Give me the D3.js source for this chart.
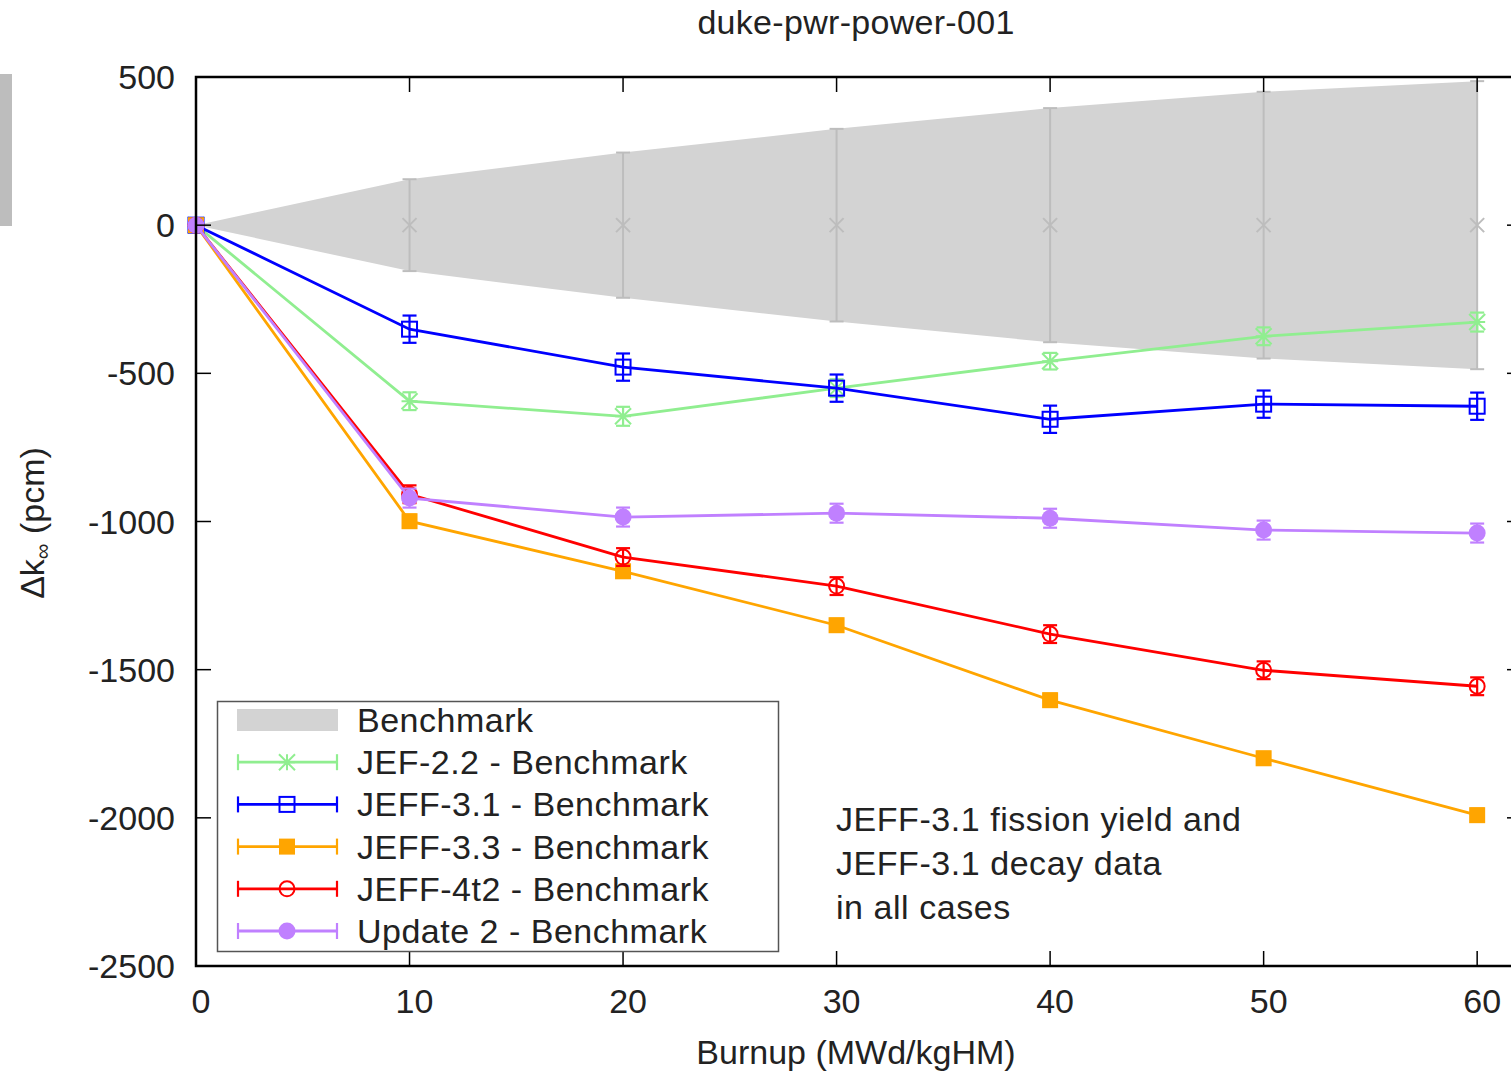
<!DOCTYPE html>
<html>
<head>
<meta charset="utf-8">
<script src="https://cdn.jsdelivr.net/npm/d3@7"></script>
<style>
  html, body { margin: 0; padding: 0; background: #fff; }
  svg { display: block; }
  text { font-family: "Liberation Sans", Arial, sans-serif; fill: #222; }
</style>
</head>
<body>
<svg id="chart" width="1511" height="1073"></svg>
<script>
// ---- Data ----
const burnup = [0, 10, 20, 30, 40, 50, 60];
const benchmarkCenter = [0, 0, 0, 0, 0, 0, 0];
const benchmarkUnc = [0, 155, 245, 325, 395, 450, 486];

const jef22 = [0, -594, -645, -550, -459, -375, -327];
const jef22Err = [0, 30, 32, 30, 28, 30, 32];
const jeff31 = [0, -351, -479, -550, -655, -604, -611];
const jeff31Err = [0, 46, 46, 46, 46, 46, 46];
const jeff33 = [0, -999, -1168, -1350, -1603, -1799, -1991];
const jeff33Err = [0, 22, 22, 22, 22, 22, 22];
const jeff4t2 = [0, -908, -1120, -1218, -1380, -1502, -1556];
const jeff4t2Err = [0, 30, 30, 30, 30, 30, 30];
const update2 = [0, -921, -985, -972, -989, -1029, -1039];
const update2Err = [0, 32, 32, 32, 32, 32, 32];

const seriesNames = ["JEF-2.2 - Benchmark", "JEFF-3.1 - Benchmark", "JEFF-3.3 - Benchmark", "JEFF-4t2 - Benchmark", "Update 2 - Benchmark"];
const xTicks = [0, 10, 20, 30, 40, 50, 60];
const yTicks = [500, 0, -500, -1000, -1500, -2000, -2500];
const titleText = "duke-pwr-power-001";
const xLabel = "Burnup (MWd/kgHM)";
const noteLines = ["JEFF-3.1 fission yield and", "JEFF-3.1 decay data", "in all cases"];

// ---- Layout ----
const svg = d3.select("#chart");
const pL = 196, pR = 1522, pT = 77, pB = 966;
const x = d3.scaleLinear().domain([0, 62.1]).range([pL, pR]);
const y = d3.scaleLinear().domain([-2500, 500]).range([pB, pT]);
const FS = 34;

// artifact gray block at left edge
svg.append("rect").attr("x", 0).attr("y", 74).attr("width", 12).attr("height", 152).attr("fill", "#bdbdbd");

// Benchmark band
const bandData = burnup.map((b, i) => ({ x: b, c: benchmarkCenter[i], u: benchmarkUnc[i] }));
svg.append("path")
  .datum(bandData)
  .attr("fill", "#d3d3d3")
  .attr("d", d3.area().x(d => x(d.x)).y0(d => y(d.c - d.u)).y1(d => y(d.c + d.u)));

// Benchmark error bars and x markers
const bg = svg.append("g").attr("stroke", "#bdbdbd").attr("stroke-width", 2).attr("fill", "none");
bandData.forEach(d => {
  const cx = x(d.x);
  if (d.u > 0) {
    bg.append("line").attr("x1", cx).attr("x2", cx).attr("y1", y(d.c - d.u)).attr("y2", y(d.c + d.u));
    bg.append("line").attr("x1", cx - 7).attr("x2", cx + 7).attr("y1", y(d.c + d.u)).attr("y2", y(d.c + d.u));
    bg.append("line").attr("x1", cx - 7).attr("x2", cx + 7).attr("y1", y(d.c - d.u)).attr("y2", y(d.c - d.u));
  }
  const cy = y(d.c), s = 7;
  if (d.x > 0) bg.append("path").attr("d", `M${cx - s},${cy - s}L${cx + s},${cy + s}M${cx - s},${cy + s}L${cx + s},${cy - s}`);
});

// ---- Series ----
const series = [
  { name: seriesNames[0], vals: jef22, err: jef22Err, color: "#90ee90", marker: "star" },
  { name: seriesNames[1], vals: jeff31, err: jeff31Err, color: "#0000ff", marker: "osquare" },
  { name: seriesNames[2], vals: jeff33, err: jeff33Err, color: "#ffa500", marker: "fsquare" },
  { name: seriesNames[3], vals: jeff4t2, err: jeff4t2Err, color: "#ff0000", marker: "ocircle" },
  { name: seriesNames[4], vals: update2, err: update2Err, color: "#c080ff", marker: "fcircle" }
];

function drawMarker(g, type, cx, cy, color) {
  const s = 8;
  if (type === "star") {
    g.append("path").attr("d", `M${cx - s},${cy - s}L${cx + s},${cy + s}M${cx - s},${cy + s}L${cx + s},${cy - s}M${cx},${cy - s}L${cx},${cy + s}M${cx - s},${cy}L${cx + s},${cy}`)
      .attr("stroke", color).attr("stroke-width", 2).attr("fill", "none");
  } else if (type === "osquare") {
    g.append("rect").attr("x", cx - 7.5).attr("y", cy - 7.5).attr("width", 15).attr("height", 15)
      .attr("stroke", color).attr("stroke-width", 2).attr("fill", "none");
  } else if (type === "fsquare") {
    g.append("rect").attr("x", cx - 8).attr("y", cy - 8).attr("width", 16).attr("height", 16).attr("fill", color);
  } else if (type === "ocircle") {
    g.append("circle").attr("cx", cx).attr("cy", cy).attr("r", 7.5).attr("stroke", color).attr("stroke-width", 2).attr("fill", "none");
  } else if (type === "fcircle") {
    g.append("circle").attr("cx", cx).attr("cy", cy).attr("r", 8.5).attr("fill", color);
  }
}

const line = d3.line().x(d => x(d.x)).y(d => y(d.v));
series.forEach(s => {
  const g = svg.append("g");
  const pts = burnup.map((b, i) => ({ x: b, v: s.vals[i], e: s.err[i] }));
  g.append("path").datum(pts).attr("d", line).attr("fill", "none").attr("stroke", s.color).attr("stroke-width", 2.8);
  pts.forEach(p => {
    const cx = x(p.x);
    if (p.e > 0) {
      const y1 = y(p.v + p.e), y2 = y(p.v - p.e);
      g.append("line").attr("x1", cx).attr("x2", cx).attr("y1", y1).attr("y2", y2).attr("stroke", s.color).attr("stroke-width", 2.2);
      g.append("line").attr("x1", cx - 7).attr("x2", cx + 7).attr("y1", y1).attr("y2", y1).attr("stroke", s.color).attr("stroke-width", 2.2);
      g.append("line").attr("x1", cx - 7).attr("x2", cx + 7).attr("y1", y2).attr("y2", y2).attr("stroke", s.color).attr("stroke-width", 2.2);
    }
    drawMarker(g, s.marker, cx, y(p.v), s.color);
  });
});

// ---- Axes / frame ----
const frame = svg.append("g").attr("stroke", "#000").attr("stroke-width", 2.5).attr("fill", "none");
frame.append("path").attr("d", `M${pR},${pT}L${pL},${pT}L${pL},${pB}L${pR},${pB}`);

const tickG = svg.append("g").attr("stroke", "#000").attr("stroke-width", 1.5);
xTicks.forEach(t => {
  const px = x(t);
  if (t > 0) {
    tickG.append("line").attr("x1", px).attr("x2", px).attr("y1", pB).attr("y2", pB - 15);
    tickG.append("line").attr("x1", px).attr("x2", px).attr("y1", pT).attr("y2", pT + 15);
  }
});
yTicks.forEach(t => {
  const py = y(t);
  tickG.append("line").attr("x1", pL).attr("x2", pL + 15).attr("y1", py).attr("y2", py);
  tickG.append("line").attr("x1", pR).attr("x2", pR - 15).attr("y1", py).attr("y2", py);
});

// tick labels
svg.append("g").selectAll("text").data(xTicks).join("text")
  .attr("x", d => x(d) + 5).attr("y", 1013).attr("text-anchor", "middle")
  .attr("font-size", FS).text(d => d);
svg.append("g").selectAll("text").data(yTicks).join("text")
  .attr("x", 175).attr("y", d => y(d) + 12).attr("text-anchor", "end")
  .attr("font-size", FS).text(d => d);

// Title and labels
svg.append("text").attr("x", 856).attr("y", 34).attr("text-anchor", "middle").attr("font-size", FS).attr("letter-spacing", 0.3).text(titleText);
svg.append("text").attr("x", 856).attr("y", 1064).attr("text-anchor", "middle").attr("font-size", FS).text(xLabel);
const yl = svg.append("text").attr("transform", "translate(44,523) rotate(-90)").attr("text-anchor", "middle").attr("font-size", FS);
yl.append("tspan").text("\u0394k");
yl.append("tspan").attr("font-size", 22).attr("dy", 6).text("\u221e");
yl.append("tspan").attr("dy", -6).text(" (pcm)");

// Note
svg.append("g").selectAll("text").data(noteLines).join("text")
  .attr("x", 836).attr("y", (d, i) => 831 + i * 44).attr("font-size", FS).attr("letter-spacing", 0.55).text(d => d);

// ---- Legend ----
const lg = svg.append("g");
lg.append("rect").attr("x", 217.5).attr("y", 701.5).attr("width", 561).attr("height", 250)
  .attr("fill", "none").attr("stroke", "#555").attr("stroke-width", 1.5);
const rowY = i => 720 + i * 42.2;
lg.append("rect").attr("x", 237).attr("y", rowY(0) - 11).attr("width", 101).attr("height", 22).attr("fill", "#d3d3d3");
lg.append("text").attr("x", 357).attr("y", rowY(0) + 12).attr("font-size", FS).attr("letter-spacing", 0.5).text("Benchmark");
series.forEach((s, i) => {
  const ry = rowY(i + 1);
  lg.append("line").attr("x1", 237).attr("x2", 338).attr("y1", ry).attr("y2", ry).attr("stroke", s.color).attr("stroke-width", 2.8);
  lg.append("line").attr("x1", 238).attr("x2", 238).attr("y1", ry - 8).attr("y2", ry + 8).attr("stroke", s.color).attr("stroke-width", 2.2);
  lg.append("line").attr("x1", 337).attr("x2", 337).attr("y1", ry - 8).attr("y2", ry + 8).attr("stroke", s.color).attr("stroke-width", 2.2);
  drawMarker(lg, s.marker, 287, ry, s.color);
  lg.append("text").attr("x", 357).attr("y", ry + 12).attr("font-size", FS).attr("letter-spacing", 0.5).text(s.name);
});
</script>
</body>
</html>
